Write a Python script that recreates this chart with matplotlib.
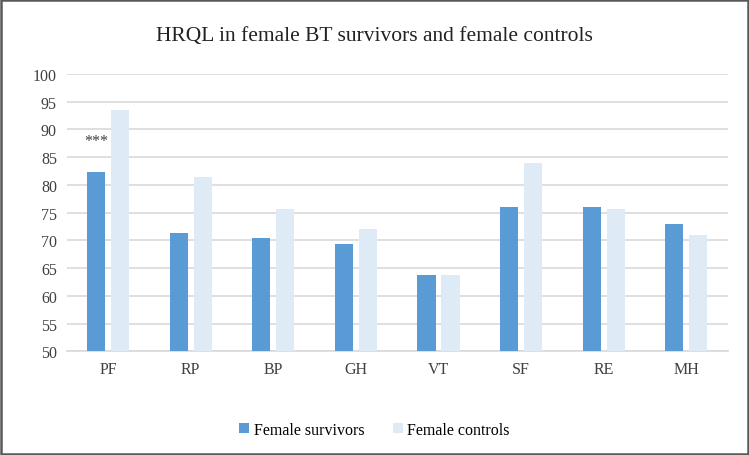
import matplotlib.pyplot as plt
import numpy as np
from matplotlib.patches import Rectangle

plt.rcParams['font.family'] = ['Liberation Serif', 'DejaVu Serif']

# data
categories = ['PF', 'RP', 'BP', 'GH', 'VT', 'SF', 'RE', 'MH']
survivors = [82.3, 71.4, 70.5, 69.3, 63.8, 76.1, 76.1, 73.0]
controls = [93.5, 81.4, 75.7, 72.1, 63.8, 83.9, 75.7, 71.0]
series_names = ['Female survivors', 'Female controls']

fig = plt.figure(figsize=(7.49, 4.56), dpi=100)
ax = fig.add_axes([66.7 / 749, 1 - 352.3 / 456, 661 / 749, 277.3 / 456])

x = np.arange(len(categories))
w = 0.22
ax.bar(x - 0.145, survivors, w, color='#5B9BD5', label=series_names[0], zorder=3)
ax.bar(x + 0.145, controls, w, color='#DEEBF7', label=series_names[1], zorder=3)

ax.set_xlim(-0.5, len(categories) - 0.5)
ax.set_ylim(50, 100)
ax.set_yticks(np.arange(50, 101, 5))
ax.set_xticks(x)
ax.set_xticklabels(categories)
ax.grid(axis='y', color='#D9D9D9', linewidth=1.2, zorder=0)
for s in ['top', 'right', 'left']:
    ax.spines[s].set_visible(False)
ax.spines['bottom'].set_color('#D9D9D9')
ax.spines['bottom'].set_linewidth(1.2)
ax.tick_params(axis='both', length=0, labelsize=11.5, colors='#404040')
ax.tick_params(axis='x', pad=7)
ax.tick_params(axis='y', pad=7)

# significance marker
ax.text(x[0] - 0.145, 88, '***', ha='center', va='center', fontsize=11.5, color='#404040')

fig.text(0.5, 1 - 37 / 456, 'HRQL in female BT survivors and female controls',
         ha='center', va='center', fontsize=15.5, color='#222222')

fig.legend(loc='center', bbox_to_anchor=(0.5, 1 - 431 / 456), ncol=2, frameon=False,
           fontsize=11.5, handlelength=0.6, handleheight=0.6, handletextpad=0.3,
           columnspacing=1.8)

fig.add_artist(Rectangle((0.002, 0.003), 0.996, 0.994, transform=fig.transFigure,
                         fill=False, edgecolor='#595959', linewidth=1.8))

fig.savefig('out.png', dpi=100)
